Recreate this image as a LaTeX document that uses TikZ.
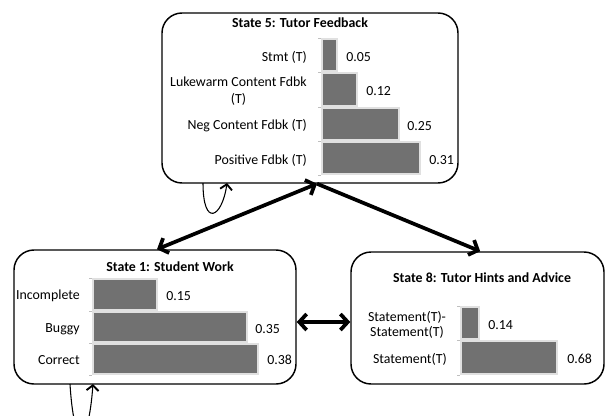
\documentclass[tikz,border=0pt]{standalone}
\usepackage{fontspec}
\setmainfont{Carlito}
\usetikzlibrary{arrows.meta}
\definecolor{barc}{HTML}{717171}
\tikzset{
  statebox/.style={draw, line width=1.1pt, rounded corners=15pt, inner sep=0pt},
  bar/.style={fill=barc, draw=black!12, line width=0.8pt},
  axisl/.style={draw=black!25, line width=0.6pt},
  lbl/.style={font=\fontsize{10.4}{12}\selectfont, inner sep=0pt},
  ttl/.style={font=\bfseries\fontsize{10.4}{12}\selectfont, inner sep=0pt},
  bigarrow/.style={line width=2.8pt},
  barbhead/.tip={Straight Barb[length=5.5pt,width=12pt]},
  loop/.style={line width=0.8pt, -{Straight Barb[length=4pt,width=9pt,line width=1.4pt]}}
}
\begin{document}
\begin{tikzpicture}[x=0.75pt,y=-0.75pt]
\path[use as bounding box] (0,0) rectangle (605,415);
\clip (0,0) rectangle (605,415);

% state boxes
\node[statebox, minimum width=222pt, minimum height=127.5pt] (b5) at (310,98) {};
\node[statebox, minimum width=211.5pt, minimum height=100.5pt] (b1) at (155,317) {};
\node[statebox, minimum width=189.75pt, minimum height=99pt] (b8) at (477.5,318) {};

% titles
\node[ttl] (t5) at (300,23) {State 5: Tutor Feedback};
\node[ttl] (t1) at (170,267) {State 1: Student Work};
\node[ttl] (t8) at (482,278) {State 8: Tutor Hints and Advice};

% ---- State 5 chart
\draw[axisl] (321,38) -- (321,175);
\foreach \yy in {38,72,107,141,175} \draw[axisl] (318,\yy) -- (321,\yy);
\draw[bar] (322,39) rectangle (337,71);
\draw[bar] (322,73) rectangle (357,106);
\draw[bar] (322,108) rectangle (399,140);
\draw[bar] (322,142) rectangle (420,174);
\node[lbl, anchor=east] (c51) at (307,57) {Stmt (T)};
\node[lbl, anchor=east, align=center, font=\fontsize{10.4}{12.75}\selectfont] (c52) at (307,91.5) {Lukewarm Content Fdbk\\(T)};
\node[lbl, anchor=east] (c53) at (307,126) {Neg Content Fdbk (T)};
\node[lbl, anchor=east] (c54) at (307,160) {Positive Fdbk (T)};
\node[lbl, anchor=west] (v51) at (346,57) {0.05};
\node[lbl, anchor=west] (v52) at (366,91) {0.12};
\node[lbl, anchor=west] (v53) at (407,126) {0.25};
\node[lbl, anchor=west] (v54) at (429,160) {0.31};

% ---- State 1 chart
\draw[axisl] (92,278) -- (92,375);
\foreach \yy in {278,311,343,375} \draw[axisl] (89,\yy) -- (92,\yy);
\draw[bar] (93,279) rectangle (157,310);
\draw[bar] (93,312) rectangle (247,342);
\draw[bar] (93,344) rectangle (258,374);
\node[lbl, anchor=east] (c11) at (80,296) {Incomplete};
\node[lbl, anchor=east] (c12) at (80,329) {Buggy};
\node[lbl, anchor=east] (c13) at (80,360) {Correct};
\node[lbl, anchor=west] (v11) at (166,296) {0.15};
\node[lbl, anchor=west] (v12) at (255,329) {0.35};
\node[lbl, anchor=west] (v13) at (267,360) {0.38};

% ---- State 8 chart
\draw[axisl] (460,306) -- (460,375);
\foreach \yy in {306,340,375} \draw[axisl] (457,\yy) -- (460,\yy);
\draw[bar] (461,307) rectangle (479,339);
\draw[bar] (461,341) rectangle (557,374);
\node[lbl, align=center, font=\fontsize{10.4}{11.25}\selectfont] (c81) at (407,324.5) {Statement(T)-\\Statement(T)};
\node[lbl, anchor=east] (c82) at (447,359) {Statement(T)};
\node[lbl, anchor=west] (v81) at (488,325) {0.14};
\node[lbl, anchor=west] (v82) at (567,359) {0.68};

% ---- transitions
\draw[bigarrow, barbhead-barbhead] ([xshift=5.25pt]b5.south) -- ([xshift=1.5pt]b1.north);
\draw[bigarrow, -barbhead] ([xshift=5.25pt]b5.south) -- ([xshift=2pt]b8.north);
\draw[bigarrow, barbhead-barbhead] ([yshift=-3.75pt]b1.east) -- ([yshift=-3pt]b8.west);

% self loops
\coordinate (l5a) at (203,183);
\coordinate (l5b) at (227,183);
\draw[loop] (l5a) .. controls (203,228) and (222,218) .. (l5b);
\coordinate (l1a) at (70,384);
\coordinate (l1b) at (93,384);
\draw[loop] (l1a) .. controls (74,450) and (88,450) .. (l1b);
\end{tikzpicture}
\end{document}
